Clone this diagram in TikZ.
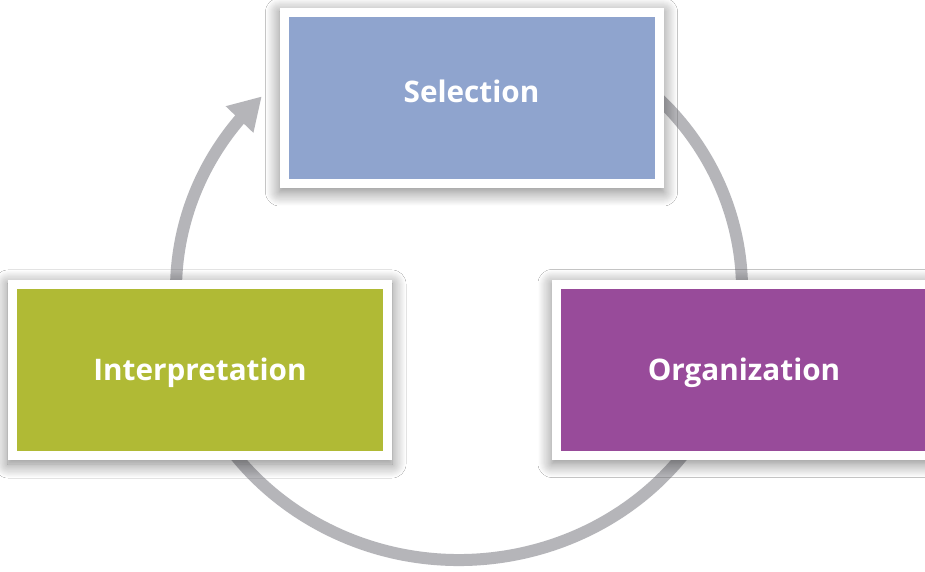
\documentclass[tikz,border=0pt]{standalone}
\usepackage{fontspec}
\setmainfont{Open Sans}
\usetikzlibrary{arrows.meta,bending,shadows.blur}
\definecolor{selc}{HTML}{8FA4CE}
\definecolor{intc}{HTML}{B0BA35}
\definecolor{orgc}{HTML}{984B9A}
\definecolor{ringc}{HTML}{B5B5B9}
\tikzset{
  stage/.style={rectangle, minimum width=384pt, minimum height=180pt, inner sep=0pt, fill=white,
    blur shadow={shadow xshift=0pt, shadow yshift=-4pt, shadow blur radius=14pt, shadow blur steps=14, shadow opacity=50},
    path picture={\fill[#1] ([shift={(9pt,9pt)}]path picture bounding box.south west) rectangle ([shift={(-9pt,-9pt)}]path picture bounding box.north east);},
    font=\fontsize{29.7}{32}\selectfont\bfseries, text=white, text height=21pt, text depth=0pt},
  ring/.style={draw=ringc, line width=12pt, -{Triangle[length=32pt,width=36pt]}}
}
\begin{document}
\begin{tikzpicture}[x=1pt,y=1pt]
\useasboundingbox (0,0) rectangle (925,571);
\clip (0,0) rectangle (925,571);
\fill[white] (0,0) rectangle (925,571);
\coordinate (ctr) at (459,281);
\draw[ring] (ctr) ++(60:283pt and 270pt) coordinate (ringstart)
  arc[start angle=60, end angle=-225.8, x radius=283pt, y radius=270pt] coordinate (ringtip);
\node[stage=selc, text depth=12pt] (sel) at (471.5,473) {Selection};
\node[stage=intc] (int) at (200,201) {Interpretation};
\node[stage=orgc] (org) at (744,201.5) {Organization};
\end{tikzpicture}
\end{document}
